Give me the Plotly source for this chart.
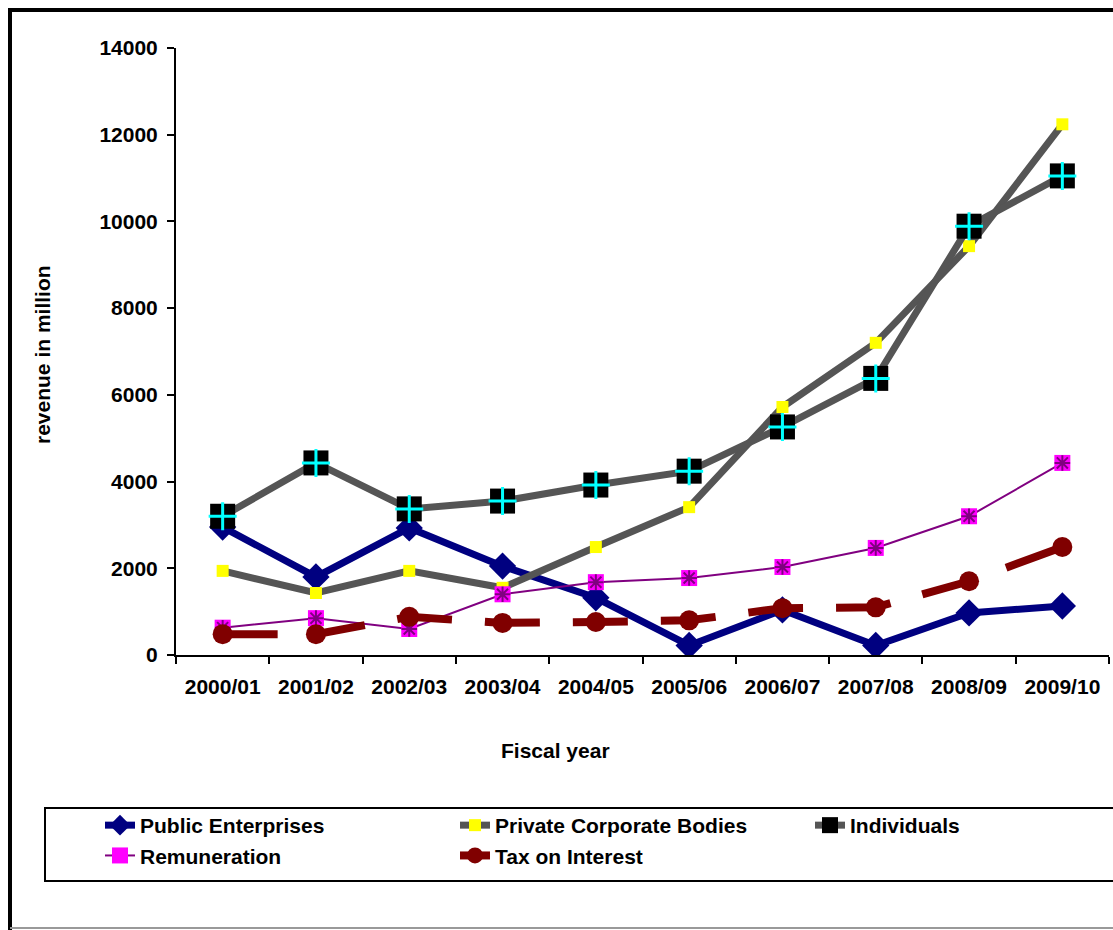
import plotly.graph_objects as go

# Fiscal years and revenue (million) by source
years = ["2000/01", "2001/02", "2002/03", "2003/04", "2004/05",
         "2005/06", "2006/07", "2007/08", "2008/09", "2009/10"]
public_enterprises = [2950, 1800, 2930, 2050, 1320, 220, 1040, 220, 970, 1130]
private_corporate = [1940, 1430, 1940, 1550, 2490, 3410, 5720, 7200, 9430, 12240]
individuals = [3200, 4430, 3370, 3550, 3920, 4240, 5260, 6380, 9890, 11050]
remuneration = [630, 850, 600, 1400, 1680, 1775, 2030, 2470, 3200, 4430]
tax_on_interest = [480, 480, 880, 740, 760, 800, 1080, 1100, 1700, 2490]

W, H = 1113, 930
L, R, T, B = 176, 4, 48, 275
PW, PH = W - L - R, H - T - B


def px_x(x):
    return (x - L) / PW


def px_y(y):
    return (H - B - y) / PH


FONT = "Liberation Sans, Arial, sans-serif"
GRAY = "#555555"

fig = go.Figure()

fig.add_trace(go.Scatter(
    x=years, y=public_enterprises, name="<b>Public Enterprises</b>", mode="lines+markers",
    line=dict(color="#000080", width=7),
    marker=dict(symbol="diamond", size=21, color="#000080"),
))
fig.add_trace(go.Scatter(
    x=years, y=private_corporate, name="<b>Private Corporate Bodies</b>", mode="lines+markers",
    line=dict(color=GRAY, width=7),
    marker=dict(symbol="square", size=12, color="#FFFF00"),
))
fig.add_trace(go.Scatter(
    x=years, y=individuals, name="<b>Individuals</b>", mode="lines+markers",
    line=dict(color=GRAY, width=7),
    marker=dict(symbol="square", size=25, color="#000000"),
    legendwidth=120,
))
fig.add_trace(go.Scatter(
    x=years, y=individuals, mode="markers", showlegend=False, hoverinfo="skip",
    marker=dict(symbol="cross-thin-open", size=20, color="#00FFFF",
                line=dict(color="#00FFFF", width=3)),
))
fig.add_trace(go.Scatter(
    x=years, y=remuneration, name="<b>Remuneration</b>", mode="lines+markers",
    line=dict(color="#800080", width=2),
    marker=dict(symbol="square", size=16, color="#FF00FF"),
))
fig.add_trace(go.Scatter(
    x=years, y=remuneration, mode="markers", showlegend=False, hoverinfo="skip",
    marker=dict(symbol="asterisk-open", size=13, color="#800080",
                line=dict(color="#800080", width=2)),
))
fig.add_trace(go.Scatter(
    x=years, y=tax_on_interest, name="<b>Tax on Interest</b>", mode="lines+markers",
    line=dict(color="#800000", width=8, dash="55px,33px"),
    marker=dict(symbol="circle", size=20, color="#800000"),
))

shapes = [
    # outer frame
    dict(type="line", xref="paper", yref="paper", x0=px_x(10), x1=px_x(10),
         y0=px_y(8), y1=px_y(930), line=dict(color="black", width=4)),
    dict(type="line", xref="paper", yref="paper", x0=px_x(8), x1=px_x(1120),
         y0=px_y(10), y1=px_y(10), line=dict(color="black", width=4)),
    dict(type="line", xref="paper", yref="paper", x0=px_x(10), x1=px_x(1120),
         y0=px_y(928), y1=px_y(928), line=dict(color="#999999", width=2)),
    # legend box
    dict(type="rect", xref="paper", yref="paper", x0=px_x(45), x1=px_x(1125),
         y0=px_y(808), y1=px_y(881), line=dict(color="black", width=2)),
]

fig.update_layout(
    width=W, height=H,
    margin=dict(l=L, r=R, t=T, b=B),
    paper_bgcolor="white", plot_bgcolor="white",
    font=dict(family=FONT, size=21, color="black"),
    showlegend=True,
    legend=dict(
        orientation="h", x=px_x(100), xanchor="left", y=px_y(805), yanchor="top",
        entrywidth=310, entrywidthmode="pixels",
        font=dict(family=FONT, size=21, color="black"),
        bgcolor="rgba(0,0,0,0)", borderwidth=0, itemclick=False,
    ),
    xaxis=dict(
        type="category", range=[-0.5, 9.5], tickson="boundaries",
        ticks="outside", ticklen=7, tickwidth=2, tickcolor="black",
        showline=True, linewidth=2, linecolor="black", showgrid=False,
        zeroline=False, tickfont=dict(family=FONT, size=21, color="black"),
        tickvals=years, ticktext=[f"<b>{y}</b>" for y in years],
        ticklabelstandoff=12,
    ),
    yaxis=dict(
        range=[0, 14000], dtick=2000, tick0=0,
        ticks="outside", ticklen=7, tickwidth=2, tickcolor="black",
        showline=True, linewidth=2, linecolor="black", showgrid=False,
        zeroline=False, tickformat="d",
        tickfont=dict(family=FONT, size=21, color="black"),
        ticklabelstandoff=5,
    ),
    shapes=shapes,
    annotations=[
        dict(text="<b>revenue in million</b>", xref="paper", yref="paper",
             x=px_x(42), y=px_y(355), textangle=-90, showarrow=False,
             xanchor="center", yanchor="middle", font=dict(family=FONT, size=21)),
        dict(text="<b>Fiscal year</b>", xref="paper", yref="paper",
             x=px_x(555), y=px_y(750), showarrow=False,
             xanchor="center", yanchor="middle", font=dict(family=FONT, size=21)),
    ],
)
fig.update_yaxes(tickprefix="<b>", ticksuffix="</b>")

fig.write_html("out.html")
